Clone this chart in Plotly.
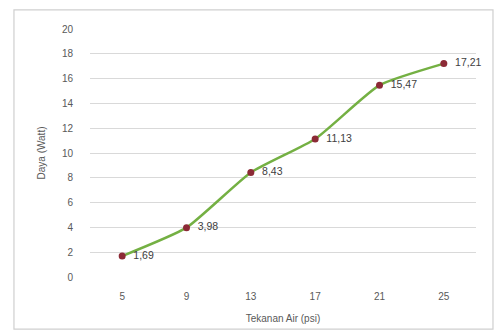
import plotly.graph_objects as go

# Water pressure (psi) vs generated power (Watt)
pressure = ["5", "9", "13", "17", "21", "25"]
power = [1.69, 3.98, 8.43, 11.13, 15.47, 17.21]
power_labels = ["1,69", "3,98", "8,43", "11,13", "15,47", "17,21"]
y_ticks = [0, 2, 4, 6, 8, 10, 12, 14, 16, 18, 20]

fig = go.Figure()
fig.add_trace(go.Scatter(
    x=pressure,
    y=power,
    mode="lines+markers+text",
    line=dict(color="#74B043", width=2.5, shape="spline", smoothing=0.5),
    marker=dict(color="#8C2A36", size=7),
    text=["  " + t for t in power_labels],
    textposition="middle right",
    textfont=dict(family="Liberation Sans, Arial, sans-serif", size=10.5, color="#404040"),
    cliponaxis=False,
    showlegend=False,
))

fig.update_layout(
    width=495,
    height=331,
    margin=dict(l=90, r=19, t=29, b=54),
    paper_bgcolor="white",
    plot_bgcolor="white",
    font=dict(family="Liberation Sans, Arial, sans-serif", size=10, color="#595959"),
    xaxis=dict(
        type="category",
        range=[-0.5, 5.5],
        automargin=False,
        showgrid=False,
        showline=False,
        zeroline=False,
        ticks="",
        ticklabelstandoff=12,
        tickfont=dict(size=10, color="#595959"),
        title=dict(text="Tekanan Air (psi)", font=dict(size=10, color="#595959"), standoff=13),
    ),
    yaxis=dict(
        range=[0, 20],
        tickvals=y_ticks,
        automargin=False,
        showgrid=True,
        gridcolor="#D9D9D9",
        gridwidth=1,
        zeroline=False,
        showline=False,
        ticks="",
        ticklabelstandoff=16,
        tickfont=dict(size=10, color="#595959"),
        title=dict(text="Daya (Watt)", font=dict(size=10, color="#595959"), standoff=14),
    ),
    shapes=[
        dict(type="rect", xref="paper", yref="paper",
             x0=-0.197, x1=1.044, y0=-0.21, y1=1.077,
             line=dict(color="#CFCFCF", width=1.2), fillcolor="rgba(0,0,0,0)",
             layer="above"),
    ],
)

fig.write_html("out.html")
